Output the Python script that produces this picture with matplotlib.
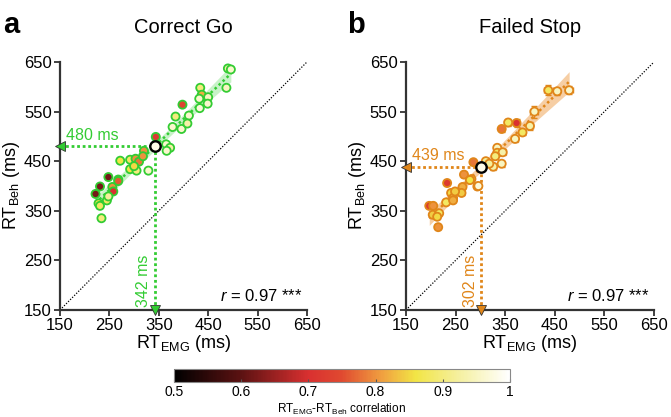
import numpy as np
import matplotlib
matplotlib.use('Agg')
import matplotlib.pyplot as plt
from matplotlib.colors import LinearSegmentedColormap, Normalize
from matplotlib.colorbar import ColorbarBase

plt.rcParams['font.family'] = ['Liberation Sans', 'DejaVu Sans']
plt.rcParams['mathtext.fontset'] = 'custom'
plt.rcParams['mathtext.rm'] = 'Liberation Sans'
plt.rcParams['mathtext.it'] = 'Liberation Sans:italic'

# --- Datos panel a (Correct Go) ---
go_emg = [490, 496, 487, 434, 437, 432, 450, 449, 433, 398, 411, 384, 396, 408, 378,
          365, 373, 366, 344, 320, 272, 292, 303, 310, 292, 305, 329, 268, 248, 231,
          222, 256, 258, 228, 231, 245, 248, 234, 268, 300, 318]
go_beh = [637, 635, 598, 598, 584, 576, 579, 566, 557, 564, 542, 540, 515, 526, 519,
          484, 477, 471, 499, 471, 451, 453, 455, 449, 434, 431, 431, 413, 418, 399,
          384, 398, 389, 365, 360, 371, 379, 335, 410, 440, 460]
go_r = [0.93, 0.96, 0.95, 0.90, 0.82, 0.96, 0.95, 0.96, 0.97, 0.74, 0.96, 0.90, 0.96, 0.93, 0.96,
        0.96, 0.93, 0.96, 0.72, 0.80, 0.86, 0.88, 0.80, 0.78, 0.86, 0.90, 0.96, 0.72, 0.62, 0.62,
        0.62, 0.80, 0.70, 0.86, 0.88, 0.88, 0.92, 0.90, 0.76, 0.85, 0.80]
go_mean = (342, 480)

# --- Datos panel b (Failed Stop) ---
fs_emg = [437, 455, 479, 409, 400, 385, 373, 356, 343, 370, 334, 334, 345, 326, 343,
          311, 286, 267, 282, 294, 264, 233, 241, 245, 231, 245, 197, 205, 204, 217,
          213, 215, 279, 296, 262, 249, 318, 330]
fs_beh = [593, 591, 593, 550, 521, 508, 527, 528, 515, 495, 477, 467, 468, 439, 445,
          450, 448, 423, 414, 399, 398, 406, 386, 376, 367, 371, 360, 360, 342, 345,
          338, 317, 412, 400, 386, 389, 445, 460]
fs_r = [0.88, 0.95, 0.96, 0.95, 0.93, 0.88, 0.70, 0.88, 0.78, 0.95, 0.95, 0.88, 0.93, 0.93, 0.95,
        0.92, 0.78, 0.80, 0.85, 0.96, 0.82, 0.72, 0.85, 0.82, 0.88, 0.82, 0.72, 0.80, 0.84, 0.88,
        0.85, 0.80, 0.86, 0.97, 0.84, 0.84, 0.92, 0.90]
fs_xerr = [9, 6, 8, 8, 6, 5, 4, 5, 4, 5, 5, 5, 6, 5, 5,
           4, 3, 4, 4, 4, 3, 3, 3, 3, 3, 3, 3, 3, 3, 3,
           3, 3, 4, 4, 3, 3, 5, 5]
fs_yerr = [10, 7, 8, 12, 8, 6, 8, 8, 6, 6, 6, 6, 6, 6, 6,
           5, 4, 5, 5, 5, 4, 4, 4, 4, 4, 4, 3, 3, 3, 3,
           3, 3, 5, 5, 4, 4, 6, 6]
fs_mean = (302, 439)

cmap = LinearSegmentedColormap.from_list('corr', [
    (0.0, '#000000'), (0.2, '#5c1212'), (0.4, '#d93030'), (0.5, '#e04a30'),
    (0.62, '#f0a040'), (0.72, '#f2e545'), (0.85, '#f5f0a0'), (1.0, '#ffffff')])
norm = Normalize(0.5, 1.0)

fig = plt.figure(figsize=(6.71, 4.17), dpi=100)
ax_a = fig.add_axes([0.0894, 0.2566, 0.368, 0.5947])
ax_b = fig.add_axes([0.605, 0.2566, 0.3696, 0.5947])


def panel(ax, emg, beh, r, mean, col, band, title, xerr=None, yerr=None, lbl_y=None, lbl_x=None):
    emg = np.array(emg, float)
    beh = np.array(beh, float)
    # identidad
    ax.plot([150, 650], [150, 650], ls=(0, (1, 1.3)), color='black', lw=0.9, zorder=1)

    # regresion + IC 95%
    b1, b0 = np.polyfit(emg, beh, 1)
    xs = np.linspace(emg.min(), emg.max(), 100)
    ys = b0 + b1 * xs
    n = len(emg)
    res = beh - (b0 + b1 * emg)
    s = np.sqrt(np.sum(res ** 2) / (n - 2))
    se = s * np.sqrt(1 / n + (xs - emg.mean()) ** 2 / np.sum((emg - emg.mean()) ** 2))
    ax.fill_between(xs, ys - 2.5 * se, ys + 2.5 * se, color=band, alpha=0.55, lw=0, zorder=2)
    ax.plot(xs, ys, color=col, lw=1.8, ls=(0, (1, 1.2)), zorder=2)

    if xerr is not None:
        ax.errorbar(emg, beh, xerr=xerr, yerr=yerr, fmt='none', ecolor=col,
                    elinewidth=1.0, capsize=2, capthick=1.0, zorder=3)
    ax.scatter(emg, beh, c=r, cmap=cmap, norm=norm, s=34, edgecolors=col,
               linewidths=1.3, zorder=4)

    mx, my = mean
    # lineas punteadas hacia los ejes
    ax.plot([150, mx], [my, my], color=col, lw=2, ls=(0, (1, 1)), zorder=3)
    ax.plot([mx, mx], [150, my], color=col, lw=2, ls=(0, (1, 1)), zorder=3)
    ax.plot([150], [my], marker='<', ms=7, color=col, mec='#333333', mew=0.6,
            clip_on=False, zorder=6)
    ax.plot([mx], [150], marker='v', ms=7, color=col, mec='#333333', mew=0.6,
            clip_on=False, zorder=6)
    ax.errorbar([mx], [my], xerr=[5], yerr=[6], fmt='o', ms=7.5, mfc='#fffbe8',
                mec='black', mew=1.7, ecolor='black', elinewidth=1.5, capsize=2,
                zorder=7)

    ax.text(lbl_y[0], lbl_y[1], f'{my} ms', color=col, fontsize=11.5,
            ha='left', va='bottom', zorder=5)
    ax.text(lbl_x[0], lbl_x[1], f'{mx} ms', color=col, fontsize=11.5,
            ha='right', va='bottom', rotation=90, zorder=5)

    ax.text(642, 163, r'$r$ = 0.97 ***', fontsize=12, ha='right', va='bottom')

    ax.set_xlim(150, 650)
    ax.set_ylim(150, 650)
    ticks = [150, 250, 350, 450, 550, 650]
    ax.set_xticks(ticks)
    ax.set_yticks(ticks)
    ax.tick_params(labelsize=12, length=4, width=1.3, color='#333333', pad=2)
    for sp in ['top', 'right']:
        ax.spines[sp].set_visible(False)
    for sp in ['left', 'bottom']:
        ax.spines[sp].set_linewidth(1.6)
        ax.spines[sp].set_color('#333333')
    ax.set_xlabel(r'RT$_{\mathrm{EMG}}$ (ms)', fontsize=13, labelpad=0)
    ax.set_ylabel(r'RT$_{\mathrm{Beh}}$ (ms)', fontsize=13, labelpad=1)
    ax.set_title(title, fontsize=14.5, pad=21)


panel(ax_a, go_emg, go_beh, go_r, go_mean, '#33cc33', '#9be89b', 'Correct Go',
      lbl_y=(162, 486), lbl_x=(335, 156))
panel(ax_b, fs_emg, fs_beh, fs_r, fs_mean, '#e0861a', '#f0a75a', 'Failed Stop',
      xerr=fs_xerr, yerr=fs_yerr, lbl_y=(162, 446), lbl_x=(295, 156))

fig.text(0.004, 0.94, 'a', fontsize=21, fontweight='bold', va='center')
fig.text(0.518, 0.94, 'b', fontsize=21, fontweight='bold', va='center')

# barra de color
cax = fig.add_axes([0.2593, 0.0839, 0.5007, 0.0312])
cb = ColorbarBase(cax, cmap=cmap, norm=norm, orientation='horizontal',
                  ticks=[0.5, 0.6, 0.7, 0.8, 0.9, 1.0])
cb.set_ticklabels(['0.5', '0.6', '0.7', '0.8', '0.9', '1'])
cb.outline.set_edgecolor('#888888')
cb.outline.set_linewidth(0.8)
cax.tick_params(labelsize=10, length=2, direction='in', color='#555555', pad=2)
cb.set_label(r'RT$_{\mathrm{EMG}}$-RT$_{\mathrm{Beh}}$ correlation', fontsize=8.5, labelpad=2)

fig.savefig('out.png', dpi=100)
